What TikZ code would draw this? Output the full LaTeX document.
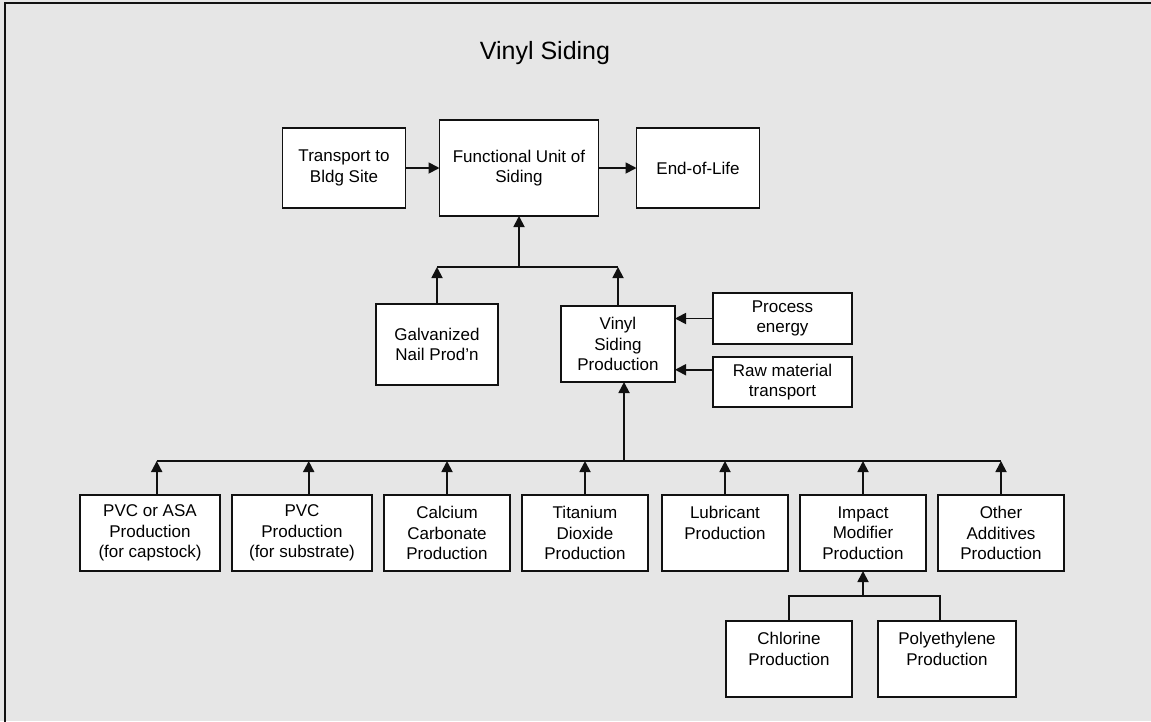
\documentclass[tikz,border=0pt]{standalone}
\usepackage{fontspec}
\setmainfont{Liberation Sans}
\usetikzlibrary{arrows.meta,positioning}
\definecolor{vsBack}{HTML}{E6E6E6}
\definecolor{vsLine}{HTML}{111111}

\begin{document}
\begin{tikzpicture}[x=1pt,y=-1pt,node distance=12pt,box/.style={draw=vsLine,fill=white,line width=1.8pt,outer sep=0pt,inner sep=2pt,align=center,minimum width=127pt,minimum height=76pt,font=\fontsize{17}{20.5}\selectfont},arr/.style={draw=vsLine,line width=1.8pt,-{Triangle[length=11pt,width=11pt]}},wire/.style={draw=vsLine,line width=1.8pt}]
\useasboundingbox (0,0) rectangle (1151,721);
\fill[vsBack] (0,0) rectangle (1151,721);
\draw[vsLine,line width=2pt] (5,3) rectangle (1190,760);
\node[font=\fontsize{25}{30}\selectfont] (title) at (545,53) {Vinyl Siding};
% top row
\node[box,minimum width=159pt,minimum height=96pt] (unit) at (519,168) {Functional Unit of\\Siding};
\node[box,minimum width=123pt,minimum height=80pt,left=34pt of unit] (transport) {Transport to\\Bldg Site};
\node[box,minimum width=123pt,minimum height=80pt,right=38pt of unit] (eol) {End-of-Life};
% middle row
\node[box,minimum width=122pt,minimum height=81pt] (nail) at (437,344.5) {Galvanized\\Nail Prod’n};
\node[box,minimum width=114pt] (vinyl) at (618,344) {Vinyl\\Siding\\Production};
\node[box,minimum width=139pt,minimum height=51pt] (energy) at (782.5,318.5) {Process\\energy};
\node[box,minimum width=139pt,minimum height=50pt,below=13pt of energy] (rawtr) {Raw material\\transport};
% inputs
\node[box,minimum width=140pt] (capstock) at (150,533) {PVC or ASA\\Production\\(for capstock)};
\node[box,minimum width=140pt,right=of capstock] (substrate) {PVC\\Production\\(for substrate)};
\node[box,minimum width=126pt,right=of substrate] (calcium) {Calcium\\Carbonate\\Production};
\node[box,minimum width=126pt,right=of calcium] (titanium) {Titanium\\Dioxide\\Production};
\node[box,minimum width=126pt,right=14pt of titanium] (lubricant) {Lubricant\\Production\\\mbox{}};
\node[box,minimum width=126pt,right=of lubricant] (impact) {Impact\\Modifier\\Production};
\node[box,minimum width=126pt,right=of impact] (additives) {Other\\Additives\\Production};
\node[box,minimum width=126pt] (chlorine) at (789,659) {Chlorine\\Production\\\mbox{}};
\node[box,minimum width=138pt,right=26pt of chlorine] (polyeth) {Polyethylene\\Production\\\mbox{}};
% connectors
\coordinate (topbus) at (0,267);
\coordinate (midbus) at (0,461);
\coordinate (lowbus) at (0,596);
\draw[arr] (transport.east) -- (unit.west);
\draw[arr] (unit.east) -- (eol.west);
\draw[wire] (nail.north |- topbus) -- (vinyl.north |- topbus);
\draw[arr] (nail.north) -- (nail.north |- topbus);
\draw[arr] (vinyl.north) -- (vinyl.north |- topbus);
\draw[arr] (unit.south |- topbus) -- (unit.south);
\draw[arr] (energy.west) -- (energy.west -| vinyl.east);
\draw[arr] (rawtr.170) -- (rawtr.170 -| vinyl.east);
\draw[wire] (capstock.80 |- midbus) -- (additives.north |- midbus);
\foreach \n/\a in {capstock/80,substrate/80,calcium/90,titanium/90,lubricant/90,impact/90,additives/90}
  \draw[arr] (\n.\a) -- (\n.\a |- midbus);
\draw[arr] (vinyl.-81 |- midbus) -- (vinyl.-81);
\draw[wire] (chlorine.north) -- (chlorine.north |- lowbus) -- (polyeth.100 |- lowbus) -- (polyeth.100);
\draw[arr] (impact.south |- lowbus) -- (impact.south);
\end{tikzpicture}
\end{document}
